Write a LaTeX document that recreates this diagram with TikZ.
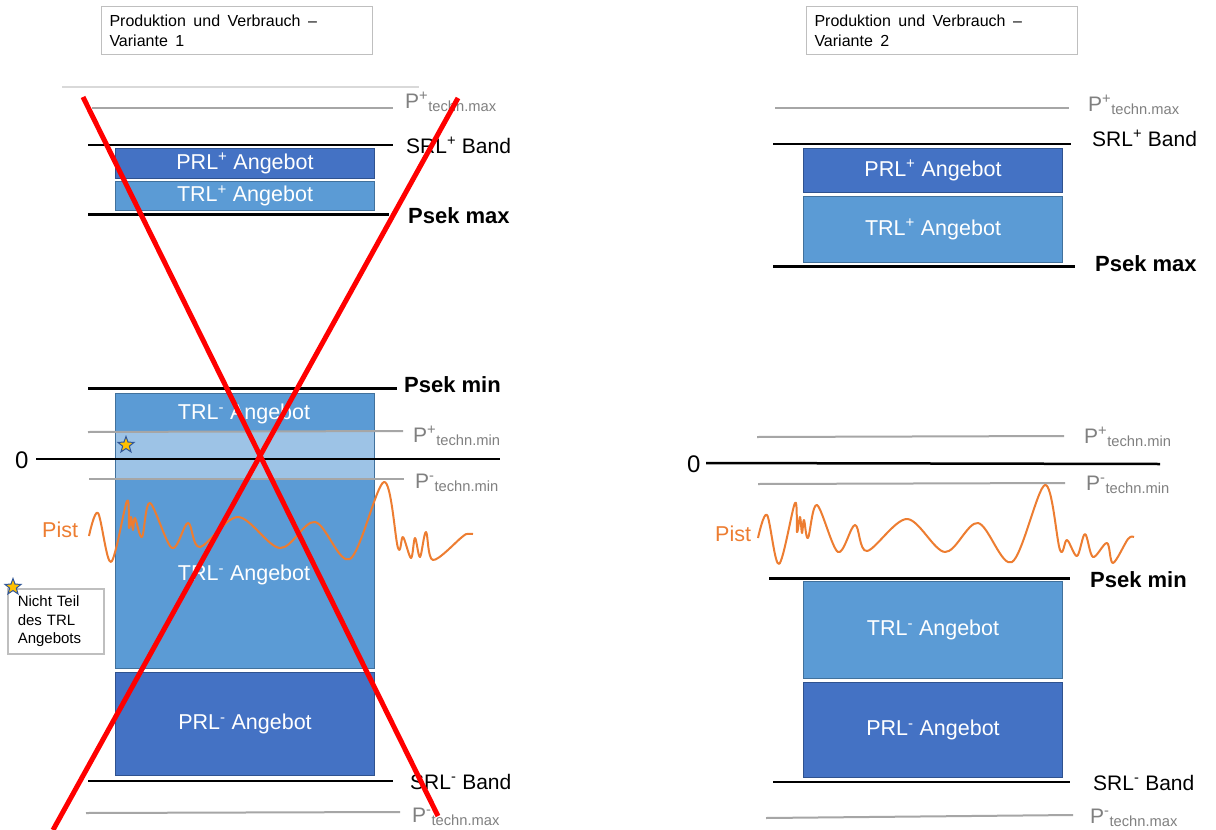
\documentclass[tikz,border=0pt]{standalone}
\usepackage{fontspec}
\setmainfont{Liberation Sans}
\usetikzlibrary{shapes.geometric}

\definecolor{prlblue}{HTML}{4472C4}
\definecolor{prledge}{HTML}{2F528F}
\definecolor{trlblue}{HTML}{5B9BD5}
\definecolor{trledge}{HTML}{41719C}
\definecolor{bandblue}{HTML}{9DC3E6}
\definecolor{pistorange}{HTML}{ED7D31}
\definecolor{limitgray}{HTML}{A6A6A6}
\definecolor{labelgray}{HTML}{808080}
\definecolor{framegray}{HTML}{BFBFBF}
\definecolor{faintgray}{HTML}{D9D9D9}
\definecolor{crossred}{HTML}{FF0000}
\definecolor{stargold}{HTML}{FFC000}
\definecolor{staredge}{HTML}{2F5597}

\tikzset{
  offer/.style={draw, line width=1pt, inner sep=0pt, anchor=north west,
    text=white, font=\fontsize{21.5}{24}\selectfont},
  prlbox/.style={offer, fill=prlblue, draw=prledge},
  trlbox/.style={offer, fill=trlblue, draw=trledge},
  offertext/.style={inner sep=0pt, text=white, font=\fontsize{21.5}{24}\selectfont},
  bandline/.style={line width=2.5pt, black},
  sekline/.style={line width=3pt, black},
  zeroline/.style={line width=2.5pt, black},
  techline/.style={line width=2pt, limitgray},
  lbl/.style={anchor=base west, inner sep=0pt, font=\fontsize{21}{24}\selectfont},
  techlbl/.style={lbl, text=labelgray},
  boldlbl/.style={lbl, font=\fontsize{22}{24}\selectfont\bfseries},
  zerolbl/.style={lbl, font=\fontsize{24}{24}\selectfont},
  pistlbl/.style={lbl, text=pistorange, font=\fontsize{21.5}{24}\selectfont},
  pist/.style={line width=2pt, pistorange, line join=round},
  header/.style={draw=framegray, line width=1pt, anchor=north west,
    inner xsep=8pt, inner ysep=0pt, align=left,
    font=\fontsize{16}{20}\selectfont, text width=255pt, minimum height=48pt},
  note/.style={draw=framegray, line width=1.5pt, anchor=north west,
    inner xsep=10pt, inner ysep=0pt, align=left,
    font=\fontsize{15}{18.3}\selectfont, text width=76pt, minimum height=65pt},
  marker/.style={star, star points=5, star point ratio=2.4, draw=staredge,
    fill=stargold, line width=1pt, minimum size=17pt, inner sep=0pt},
  cross/.style={line width=5pt, crossred},
}

\newcommand{\techmaxp}{P\textsuperscript{+}\textsubscript{techn.max}}
\newcommand{\techmaxm}{P\textsuperscript{-}\textsubscript{techn.max}}
\newcommand{\techminp}{P\textsuperscript{+}\textsubscript{techn.min}}
\newcommand{\techminm}{P\textsuperscript{-}\textsubscript{techn.min}}
\newcommand{\gap}{\hspace{7.5pt}}

\begin{document}
\begin{tikzpicture}[x=1pt, y=-1pt]
\useasboundingbox[fill=white] (0,0) rectangle (1216,830);

% ---------------- Variante 1 ----------------
\node[header] (hdrA) at (101,6) {Produktion\gap und\gap Verbrauch\gap --\\Variante\gap 1};

\draw[faintgray, line width=1.5pt] (62,87) -- (419,87);
\draw[techline] (92,108) -- (393,108);
\node[techlbl] (tmaxpA) at (405,108) {\techmaxp};

\draw[bandline] (88,145) -- (393,145);
\node[lbl] (srlpA) at (406,153) {SRL\textsuperscript{+} Band};

\node[prlbox, minimum width=259pt, minimum height=30pt] (prlpA) at (115,148) {PRL\textsuperscript{+} Angebot};
\node[trlbox, minimum width=259pt, minimum height=29pt] (trlpA) at (115,181) {TRL\textsuperscript{+} Angebot};

\draw[sekline] (88,214) -- (389,214);
\node[boldlbl] (smaxA) at (408,223) {Psek max};

\draw[sekline] (88,388) -- (397,388);
\node[boldlbl] (sminA) at (404,392) {Psek min};

\node[trlbox, minimum width=259pt, minimum height=275pt] (trlmA) at (115,393) {};
\fill[bandblue] (115.5,432) rectangle (373.5,478);
\node[offertext] (trlmAtop) at (244,414) {TRL\textsuperscript{-} Angebot};
\node[offertext] (trlmAlow) at (244,575) {TRL\textsuperscript{-} Angebot};
\node[prlbox, minimum width=259pt, minimum height=103pt] (prlmA) at (115,672) {PRL\textsuperscript{-} Angebot};

\draw[techline] (88,432) -- (403,431);
\node[techlbl] (tminpA) at (413,442) {\techminp};
\draw[zeroline] (36,459) -- (500,459);
\node[zerolbl] (zeroA) at (15,468) {0};
\draw[techline] (89,479) -- (404,479);
\node[techlbl] (tminmA) at (415,488) {\techminm};

\node[marker] (starA) at (126,445) {};

\draw[pist] plot[smooth, tension=0.55] coordinates {
  (89,536) (98,513) (111,562) (127,501) (129,528) (131,517) (133,530)
  (135,518) (142,537) (150,503) (172,548) (188,523) (200,547) (238,517)
  (280,548) (315,522) (350,559) (384,482) (398,548) (403,537) (411,558)
  (415,538) (420,557) (426,532) (433,560) (462,537) (467,534) (473,534)};
\node[pistlbl] (pistA) at (42,537) {Pist};

\draw[bandline] (88,781) -- (393,781);
\node[lbl] (srlmA) at (410,789) {SRL\textsuperscript{-} Band};
\draw[techline] (86,813) -- (400,812);
\node[techlbl] (tmaxmA) at (412,822) {\techmaxm};

\node[note] (noteA) at (7,588) {Nicht Teil\\des TRL\\Angebots};
\node[marker] (starNote) at (13,587) {};

% crossed out
\coordinate (xA1) at (83,97);
\coordinate (xA2) at (438,816);
\coordinate (xB1) at (458,98);
\coordinate (xB2) at (53,830);
\draw[cross] (xA1) -- (xA2);
\draw[cross] (xB1) -- (xB2);

% ---------------- Variante 2 ----------------
\node[header] (hdrB) at (806,6) {Produktion\gap und\gap Verbrauch\gap --\\Variante\gap 2};

\draw[techline] (775,108) -- (1069,108);
\node[techlbl] (tmaxpB) at (1088,111) {\techmaxp};

\draw[bandline] (773,144) -- (1071,144);
\node[lbl] (srlpB) at (1092,146) {SRL\textsuperscript{+} Band};

\node[prlbox, minimum width=259pt, minimum height=44pt] (prlpB) at (803,148) {PRL\textsuperscript{+} Angebot};
\node[trlbox, minimum width=259pt, minimum height=66pt] (trlpB) at (803,196) {TRL\textsuperscript{+} Angebot};

\draw[sekline] (773,266) -- (1075,266);
\node[boldlbl] (smaxB) at (1095,271) {Psek max};

\draw[techline] (757,437) -- (1064,436);
\node[techlbl] (tminpB) at (1084,443) {\techminp};
\draw[zeroline] (706,463) -- (1160,464);
\node[zerolbl] (zeroB) at (687,472) {0};
\draw[techline] (758,484) -- (1065,483);
\node[techlbl] (tminmB) at (1086,490) {\techminm};

\draw[pist] plot[smooth, tension=0.55] coordinates {
  (758,538) (767,515) (779,564) (795,503) (797,532) (800,517) (802,533)
  (804,520) (808,538) (817,505) (838,552) (855,525) (867,551) (907,519)
  (945,552) (978,523) (1012,562) (1045,485) (1060,550) (1067,540)
  (1077,556) (1085,534) (1093,557) (1107,543) (1113,563) (1128,539)
  (1134,537)};
\node[pistlbl] (pistB) at (715,541) {Pist};

\draw[sekline] (769,578) -- (1070,578);
\node[boldlbl] (sminB) at (1090,587) {Psek min};

\node[trlbox, minimum width=259pt, minimum height=97pt] (trlmB) at (803,581) {TRL\textsuperscript{-} Angebot};
\node[prlbox, minimum width=259pt, minimum height=95pt] (prlmB) at (803,682) {PRL\textsuperscript{-} Angebot};

\draw[bandline] (773,782) -- (1070,782);
\node[lbl] (srlmB) at (1093,790) {SRL\textsuperscript{-} Band};
\draw[techline] (766,818) -- (1073,815);
\node[techlbl] (tmaxmB) at (1090,823) {\techmaxm};
\end{tikzpicture}
\end{document}
